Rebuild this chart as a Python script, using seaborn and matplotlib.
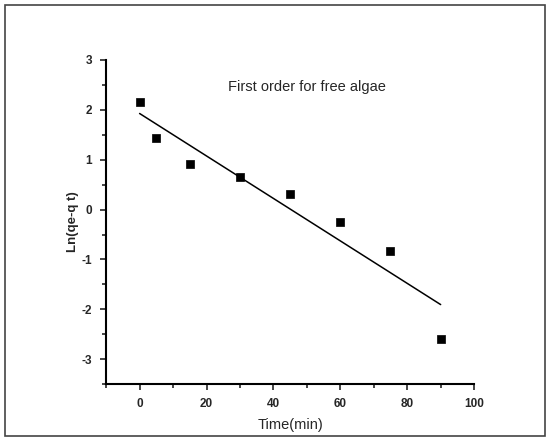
import matplotlib
matplotlib.use("Agg")
import matplotlib.pyplot as plt
import seaborn as sns
import pandas as pd
from matplotlib.patches import Rectangle
from matplotlib.ticker import MultipleLocator

time_min = [0, 5, 15, 30, 45, 60, 75, 90]
ln_qe_qt = [2.15, 1.43, 0.92, 0.65, 0.31, -0.24, -0.83, -2.6]
title_text = "First order for free algae"

df = pd.DataFrame({"Time(min)": time_min, "Ln(qe-q t)": ln_qe_qt})

sns.set_theme(style="ticks")
plt.rcParams['font.family'] = ['Liberation Sans', 'DejaVu Sans']
plt.rcParams['axes.unicode_minus'] = False

fig = plt.figure(figsize=(5.5, 4.41), dpi=100)
ax = fig.add_axes([0.193, 0.129, 0.669, 0.735])

sns.regplot(data=df, x="Time(min)", y="Ln(qe-q t)", ax=ax, ci=None, truncate=True,
            marker="s", color="black",
            scatter_kws={"s": 40, "edgecolor": "black", "linewidths": 0.5, "alpha": 1},
            line_kws={"linewidth": 1.1, "color": "black"})

ax.set_xlim(-10, 100)
ax.set_ylim(-3.5, 3)
ax.xaxis.set_major_locator(MultipleLocator(20))
ax.xaxis.set_minor_locator(MultipleLocator(10))
ax.yaxis.set_major_locator(MultipleLocator(1))
ax.yaxis.set_minor_locator(MultipleLocator(0.5))
ax.tick_params(which="major", direction="out", length=4, width=1.2, labelsize=8.5, pad=6)
ax.tick_params(which="minor", direction="out", length=3, width=1.2)
for lbl in ax.get_xticklabels() + ax.get_yticklabels():
    lbl.set_fontweight("bold")
ax.set_xlabel("Time(min)", fontsize=10.5, labelpad=6)
ax.set_ylabel("Ln(qe-q t)", fontsize=9.5, fontweight="bold", labelpad=2)
sns.despine(ax=ax)
for s in ["left", "bottom"]:
    ax.spines[s].set_linewidth(1.5)
    ax.spines[s].set_color("black")

ax.text(50, 2.45, title_text, fontsize=10.5, ha="center", va="center")

fig.patches.append(Rectangle((0.009, 0.011), 0.982, 0.978, transform=fig.transFigure,
                             fill=False, edgecolor="#444444", linewidth=1.2))

fig.savefig("out.png", dpi=100)
